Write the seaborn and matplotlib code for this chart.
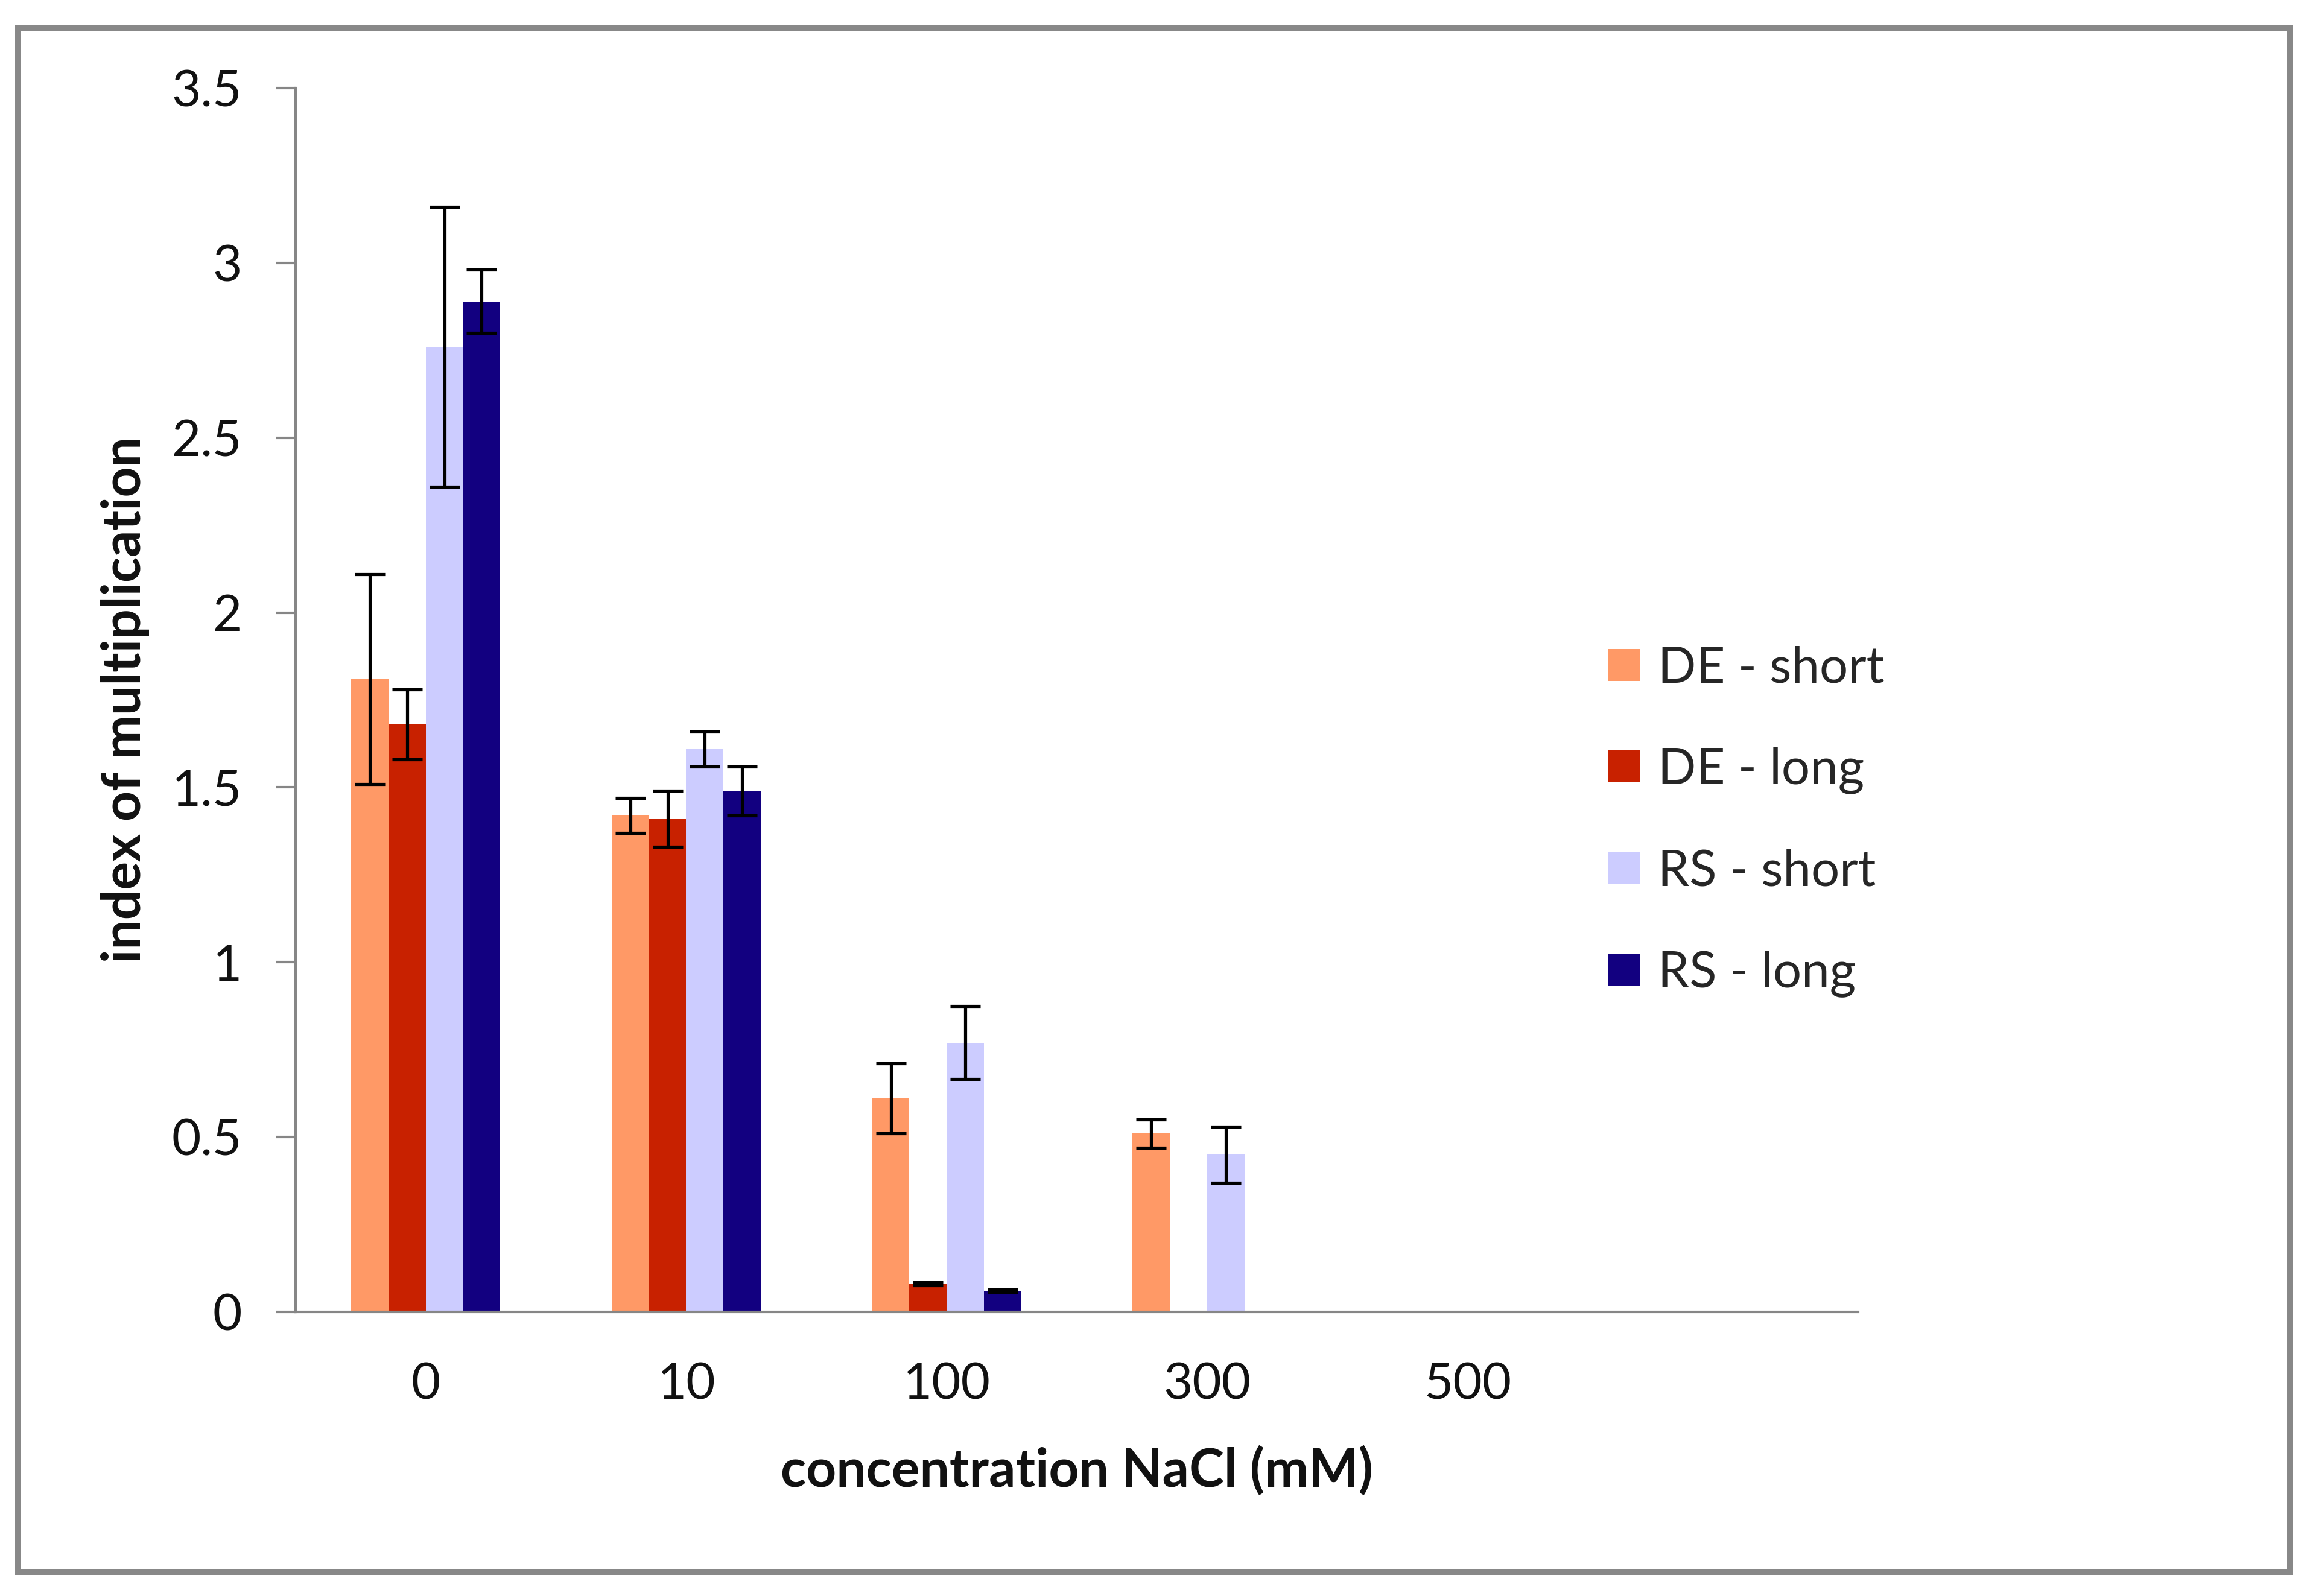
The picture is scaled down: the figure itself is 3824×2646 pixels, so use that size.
"""
NaCl tolerance bar chart — index of multiplication per concentration
"""
import numpy as np
import pandas as pd
import matplotlib
matplotlib.use("Agg")
import matplotlib.pyplot as plt
from matplotlib.patches import Rectangle
from matplotlib.ticker import FuncFormatter
import seaborn as sns

# ── Data ──────────────────────────────────────────────────────────────────────
conc = ["0", "10", "100", "300", "500"]
series = ["DE - short", "DE - long", "RS - short", "RS - long"]

de_short = [1.81, 1.42, 0.61, 0.51, 0.0]
de_long = [1.68, 1.41, 0.08, 0.0, 0.0]
rs_short = [2.76, 1.61, 0.77, 0.45, 0.0]
rs_long = [2.89, 1.49, 0.06, 0.0, 0.0]

de_short_err = [0.30, 0.05, 0.10, 0.04, np.nan]
de_long_err = [0.10, 0.08, 0.004, np.nan, np.nan]
rs_short_err = [0.40, 0.05, 0.105, 0.08, np.nan]
rs_long_err = [0.09, 0.07, 0.003, np.nan, np.nan]

colors = ["#FF9966", "#C82100", "#CCCCFF", "#120080"]

values = [de_short, de_long, rs_short, rs_long]
errors = [de_short_err, de_long_err, rs_short_err, rs_long_err]

df = pd.DataFrame(
    [{"conc": c, "series": s, "value": v}
     for s, vals in zip(series, values) for c, v in zip(conc, vals)]
)

# ── Style ─────────────────────────────────────────────────────────────────────
sns.set_theme(style="white")
plt.rcParams["font.family"] = ["Lato", "DejaVu Sans"]
GRAY = "#868686"
W, H, DPI = 3824, 2646, 300

fig = plt.figure(figsize=(W / DPI, H / DPI), dpi=DPI)
ax = fig.add_axes([490 / W, 1 - 2175 / H, 2590 / W, 2029 / H])

sns.barplot(data=df, x="conc", y="value", hue="series", order=conc,
            hue_order=series, palette=colors, saturation=1, width=0.572,
            errorbar=None, linewidth=0, ax=ax)

# error bars on top of each bar
for cont, errs in zip(ax.containers, errors):
    xs, ys, es = [], [], []
    for bar, e in zip(cont, errs):
        if np.isnan(e):
            continue
        xs.append(bar.get_x() + bar.get_width() / 2)
        ys.append(bar.get_height())
        es.append(e)
    ax.errorbar(xs, ys, yerr=es, fmt="none", ecolor="black",
                elinewidth=1.25, capsize=6, capthick=1.25, zorder=5)

# ── Axes ──────────────────────────────────────────────────────────────────────
ax.set_xlim(-0.5, 5.5)
ax.set_ylim(0, 3.5)
ax.set_yticks(np.arange(0, 3.51, 0.5))
ax.yaxis.set_major_formatter(FuncFormatter(lambda v, p: f"{v:g}"))

for side in ["top", "right"]:
    ax.spines[side].set_visible(False)
for side in ["left", "bottom"]:
    ax.spines[side].set_color(GRAY)
    ax.spines[side].set_linewidth(1.0)

ax.tick_params(axis="y", left=True, length=8, width=1, color=GRAY,
               pad=13.5, labelsize=20, labelcolor="#111111")
ax.tick_params(axis="x", bottom=False, length=0, pad=20, labelsize=20,
               labelcolor="#111111")

ax.set_xlabel("concentration NaCl (mM)", fontsize=21, fontweight="bold",
              color="#111111")
ax.set_ylabel("index of multiplication", fontsize=21, fontweight="bold",
              color="#111111")
ax.xaxis.set_label_coords(0.5, -0.130)
ax.xaxis.label.set_va("center")
ax.yaxis.set_label_coords(-0.109, 0.5)
ax.yaxis.label.set_va("center")

# ── Legend ────────────────────────────────────────────────────────────────────
handles, labels = ax.get_legend_handles_labels()
ax.get_legend().remove()
fig.legend(handles, labels, loc="center left",
           bbox_to_anchor=(2665 / W, 1 - 1362 / H), frameon=False,
           fontsize=20, handlelength=0.65, handleheight=0.6,
           handletextpad=0.35, labelspacing=1.1, borderpad=0,
           borderaxespad=0)

# outer chart border
fig.add_artist(Rectangle((30 / W, 1 - 2607 / H), (3796 - 30) / W,
                         (2607 - 47) / H, transform=fig.transFigure,
                         fill=False, edgecolor="#888888", linewidth=2.4))

fig.savefig("out.png", dpi=DPI)
plt.close(fig)
